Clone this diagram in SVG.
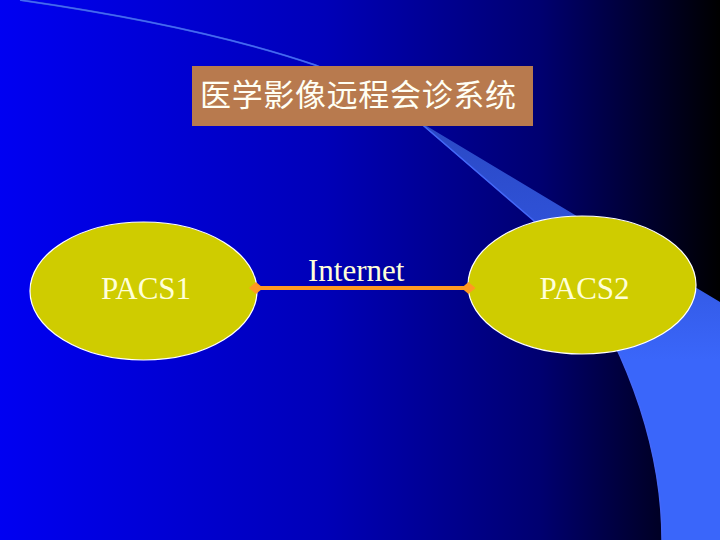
<svg xmlns="http://www.w3.org/2000/svg" width="720" height="540" viewBox="0 0 720 540">
  <defs>
    <linearGradient id="bg" x1="0" y1="0" x2="1" y2="0">
      <stop offset="0" stop-color="#0000F2"/>
      <stop offset="0.45" stop-color="#0000B8"/>
      <stop offset="0.75" stop-color="#000070"/>
      <stop offset="1" stop-color="#000000"/>
    </linearGradient>
    <linearGradient id="band" x1="0" y1="120" x2="0" y2="360" gradientUnits="userSpaceOnUse">
      <stop offset="0" stop-color="#2A48C4"/>
      <stop offset="0.45" stop-color="#2F52D8"/>
      <stop offset="1" stop-color="#3A66FA"/>
    </linearGradient>
    <marker id="dia" viewBox="-8 -7 16 14" markerWidth="16" markerHeight="14" refX="0" refY="0" markerUnits="userSpaceOnUse" orient="auto">
      <path d="M-7,0 L0,-6 L7,0 L0,6 Z" fill="#FF9922"/>
    </marker>
    <style>
      .node { fill: #CFCC00; stroke: #FFFFFF; stroke-width: 1.2; }
      .lbl { font-family: "Liberation Serif", "Times New Roman", serif; font-size: 31px; fill: #FFFFD8; }
      .conn { stroke: #FF9922; stroke-width: 4; fill: none; }
    </style>
  </defs>

  <rect x="0" y="0" width="720" height="540" fill="url(#bg)"/>

  <path d="M 20,-1 Q 200,25 315,64 Q 370,86 425,125 L 720,302 L 720,540 L 662,540 C 662,430 612,310 533,220 L 424,127 Q 370,88 315,66 Q 200,27 20,1 Z" fill="url(#band)"/>
  <path d="M 20,0 Q 200,26 315,65 Q 370,87 424,126 L 533,220 C 612,310 662,430 662,540" fill="none" stroke="#4468F8" stroke-width="1.5"/>

  <g id="title">
    <rect x="192" y="66" width="341" height="60" fill="#B87A4E"/>
    <text x="200" y="106" font-family="'Noto Sans CJK SC', sans-serif" font-size="31" fill="#FFFFF4" textLength="316" lengthAdjust="spacing">医学影像远程会诊系统</text>
  </g>

  <g id="pacs1">
    <ellipse class="node" cx="143.5" cy="291" rx="113.5" ry="69"/>
    <text class="lbl" x="146" y="299" text-anchor="middle">PACS1</text>
  </g>

  <g id="pacs2">
    <ellipse class="node" cx="582" cy="285" rx="114" ry="69"/>
    <text class="lbl" x="584.5" y="299" text-anchor="middle">PACS2</text>
  </g>

  <g id="connectors">
    <line class="conn" x1="256" y1="288" x2="468.5" y2="288" marker-start="url(#dia)" marker-end="url(#dia)"/>
    <text class="lbl" x="308" y="281">Internet</text>
  </g>
</svg>
